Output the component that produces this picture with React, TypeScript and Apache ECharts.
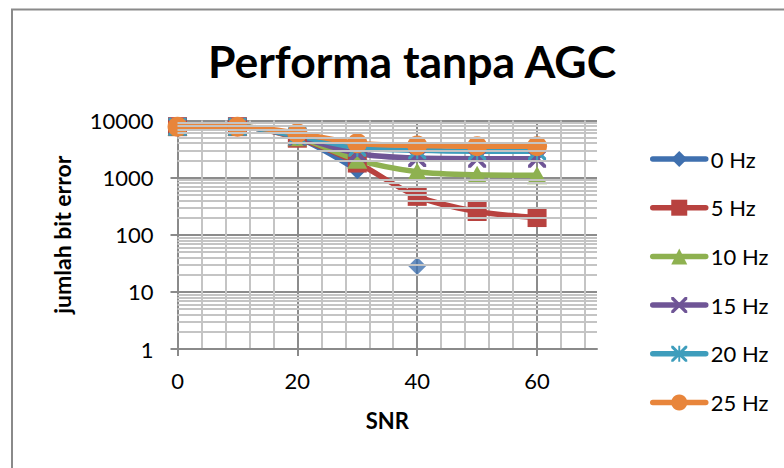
import React, { useEffect, useRef } from "react";
import * as echarts from "echarts";

// SNR (x axis)
const snr = [0, 10, 20, 30, 40, 50, 60];
// jumlah bit error per frequency offset
const hz0 = [7800, 7800, 5000, 1350, 28.5];
const hz0LineEnd = 4; // points after this index are plotted unconnected
const hz5 = [7800, 7800, 4900, 1800, 470, 255, 200];
const hz10 = [7800, 7800, 5100, 2050, 1270, 1120, 1100];
const hz15 = [7800, 7800, 5200, 2650, 2200, 2150, 2150];
const hz20 = [7800, 7800, 5400, 3350, 3000, 2900, 2900];
const hz25 = [7800, 7800, 6000, 4000, 3650, 3550, 3550];

const seriesNames = ["0 Hz", "5 Hz", "10 Hz", "15 Hz", "20 Hz", "25 Hz"];
const xTickLabels = [0, 20, 40, 60];
const decades = [1, 10, 100, 1000];

const colors = ["#3F70AF", "#B8423F", "#8EB150", "#6F5596", "#3E9DBC", "#E8853B"];

const FONT = "Lato";

const xSym =
  "path://M0,0L3,0L10,7L17,0L20,0L20,3L13,10L20,17L20,20L17,20L10,13L3,20L0,20L0,17L7,10L0,3Z";
const starSym =
  "path://M0,0L2.6,0L10,7.4L17.4,0L20,0L20,2.6L12.6,10L20,17.4L20,20L17.4,20L10,12.6L2.6,20L0,20L0,17.4L7.4,10L0,2.6ZM8.8,0L11.2,0L11.2,20L8.8,20Z";

const pairs = (vals: number[]) => vals.map((v, i) => [snr[i], v]);

export default function App() {
  const ref = useRef<HTMLDivElement>(null);
  useEffect(() => {
    if (!ref.current) return;
    const chart = echarts.init(ref.current, null, { renderer: "svg" });

    const minorValues: number[] = [];
    decades.forEach((d) => {
      for (let m = 2; m <= 9; m++) minorValues.push(d * m);
    });

    const lineCommon = (idx: number) => ({
      type: "line",
      name: seriesNames[idx],
      smooth: 0.3,
      z: 3,
      lineStyle: { width: 5.5, color: colors[idx] },
      itemStyle: { color: colors[idx] },
      emphasis: { disabled: true },
    });

    const hz0Pairs = pairs(hz0);

    chart.setOption({
      animation: false,
      backgroundColor: "#ffffff",
      textStyle: { fontFamily: FONT },
      title: {
        text: "Performa tanpa AGC",
        left: 407,
        textAlign: "center",
        top: 33,
        textStyle: { fontFamily: FONT, fontWeight: "bold", fontSize: 44.5, color: "#000" },
      },
      graphic: [
        {
          type: "rect",
          shape: { x: 12, y: 9.5, width: 800, height: 500 },
          style: { fill: "none", stroke: "#8a8a8a", lineWidth: 2 },
          silent: true,
        },
      ],
      legend: {
        orient: "vertical",
        left: 645,
        top: 143,
        itemWidth: 53,
        itemHeight: 20,
        itemGap: 26.7,
        data: seriesNames,
        lineStyle: { width: 5.5, cap: "round" },
        textStyle: { fontFamily: FONT, fontSize: 22, color: "#000", lineHeight: 22 },
        selectedMode: false,
      },
      grid: { left: 177.5, right: 187, top: 120.5, bottom: 119 },
      xAxis: {
        type: "value",
        min: 0,
        max: 70,
        interval: 20,
        name: "SNR",
        nameLocation: "middle",
        nameGap: 60,
        nameTextStyle: { fontFamily: FONT, fontWeight: "bold", fontSize: 22, color: "#000" },
        axisLine: { show: true, lineStyle: { color: "#8a8a8a", width: 2 } },
        axisTick: {
          show: true,
          length: 7,
          customValues: xTickLabels,
          lineStyle: { color: "#8a8a8a", width: 2 },
        },
        axisLabel: {
          customValues: xTickLabels,
          fontFamily: FONT,
          fontSize: 22,
          color: "#000",
          margin: 20,
        },
        splitLine: { show: true, lineStyle: { color: "#8c8c8c", width: 2 } },
        minorTick: { show: false, splitNumber: 5 },
        minorSplitLine: { show: true, lineStyle: { color: "#c4c4c4", width: 2 } },
      },
      yAxis: {
        type: "log",
        logBase: 10,
        min: 1,
        max: 10000,
        name: "jumlah bit error",
        nameLocation: "middle",
        nameGap: 104,
        nameMoveOverlap: false,
        nameRotate: 90,
        nameTextStyle: { fontFamily: FONT, fontWeight: "bold", fontSize: 23, color: "#000" },
        axisLine: { show: true, lineStyle: { color: "#8a8a8a", width: 2 } },
        axisTick: { show: true, length: 7, lineStyle: { color: "#8a8a8a", width: 2 } },
        axisLabel: {
          fontFamily: FONT,
          fontSize: 22,
          color: "#000",
          margin: 24,
          formatter: (v: number) => String(Math.round(v)),
        },
        splitLine: { show: true, lineStyle: { color: "#8c8c8c", width: 2 } },
      },
      series: [
        {
          type: "line",
          name: "minor-grid",
          data: [],
          z: 1,
          silent: true,
          markLine: {
            silent: true,
            symbol: ["none", "none"],
            label: { show: false },
            emphasis: { disabled: true },
            lineStyle: { color: "#c4c4c4", width: 2, type: "solid" },
            data: minorValues.map((v) => ({ yAxis: v })),
          },
        },
        {
          ...lineCommon(0),
          symbol: "diamond",
          symbolSize: 18,
          data: hz0Pairs.slice(0, hz0LineEnd),
        },
        {
          ...lineCommon(1),
          symbol: "rect",
          symbolSize: 19,
          data: pairs(hz5),
        },
        {
          ...lineCommon(2),
          symbol: "triangle",
          symbolSize: [20, 18],
          data: pairs(hz10),
        },
        {
          ...lineCommon(3),
          symbol: xSym,
          symbolSize: 18,
          data: pairs(hz15),
        },
        {
          ...lineCommon(4),
          symbol: starSym,
          symbolSize: 18,
          data: pairs(hz20),
        },
        {
          ...lineCommon(5),
          symbol: "circle",
          symbolSize: 20,
          data: pairs(hz25),
        },
        {
          type: "scatter",
          name: "0 Hz (isolated)",
          symbol: "diamond",
          symbolSize: 18,
          z: 3,
          itemStyle: { color: colors[0] },
          emphasis: { disabled: true },
          data: hz0Pairs.slice(hz0LineEnd),
        },
      ],
    });
    return () => chart.dispose();
  }, []);
  return (
    <div
      ref={ref}
      style={{ position: "fixed", left: 0, top: 0, width: 784, height: 468, background: "#fff" }}
    />
  );
}
